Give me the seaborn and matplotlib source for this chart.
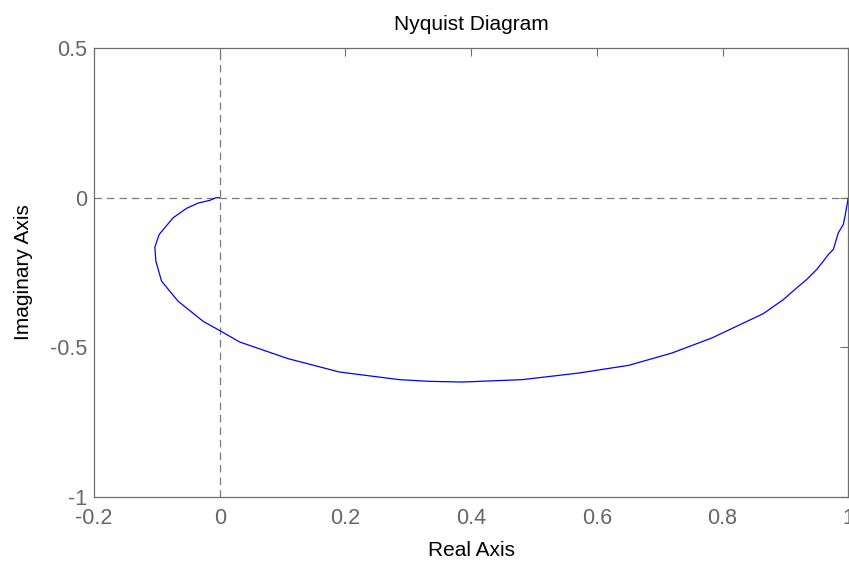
import matplotlib
matplotlib.use("Agg")
import matplotlib.pyplot as plt
import seaborn as sns
import pandas as pd

# Frequency-response samples of the open-loop transfer function (real, imaginary)
real_part = [1.0, 0.9948, 0.9921, 0.9841, 0.9762, 0.9683, 0.9603, 0.9497, 0.9338,
             0.9179, 0.8968, 0.8651, 0.7830, 0.7195, 0.6508, 0.5714, 0.4814, 0.3862,
             0.3333, 0.2857, 0.1905, 0.1084, 0.0317, 0.0, -0.0265, -0.0662, -0.0925,
             -0.1016, -0.1032, -0.0963, -0.0741, -0.0529, -0.0344, -0.0159, -0.0063, 0.0]
imag_part = [0.0, -0.0613, -0.0891, -0.1173, -0.1729, -0.1896, -0.2121, -0.2399, -0.2734,
             -0.3015, -0.3404, -0.3873, -0.4690, -0.5193, -0.5605, -0.5863, -0.6084, -0.6164,
             -0.6141, -0.6084, -0.5829, -0.5380, -0.4824, -0.4442, -0.4131, -0.3461, -0.2791,
             -0.2121, -0.1652, -0.1226, -0.0670, -0.0355, -0.0178, -0.0087, 0.0, 0.0]

x_ticks = [-0.2, 0, 0.2, 0.4, 0.6, 0.8, 1]
x_tick_labels = ["-0.2", "0", "0.2", "0.4", "0.6", "0.8", "1"]
y_ticks = [-1, -0.5, 0, 0.5]
y_tick_labels = ["-1", "-0.5", "0", "0.5"]

sns.set_style("white")
plt.rcParams["font.family"] = ["Liberation Sans", "DejaVu Sans"]
plt.rcParams["axes.unicode_minus"] = False

df = pd.DataFrame({"Re": real_part, "Im": imag_part})

fig = plt.figure(figsize=(8.49, 5.62), dpi=100)
ax = fig.add_axes([94 / 849, 1 - 496.7 / 562, (848.3 - 94) / 849, (496.7 - 48.3) / 562])

grey = "#6e6e6e"
ax.axhline(0, color="#7a7a7a", lw=0.9, ls=(0, (6, 4)), zorder=1)
ax.axvline(0, color="#7a7a7a", lw=0.9, ls=(0, (6, 4)), zorder=1)

sns.lineplot(data=df, x="Re", y="Im", sort=False, estimator=None,
             color="#0000ff", lw=0.9, ax=ax, zorder=3)

ax.set_xlim(-0.2, 1)
ax.set_ylim(-1, 0.5)
ax.set_xticks(x_ticks)
ax.set_xticklabels(x_tick_labels)
ax.set_yticks(y_ticks)
ax.set_yticklabels(y_tick_labels)

ax.tick_params(axis="both", direction="in", length=6, width=0.8, color=grey,
               labelcolor="#666666", labelsize=15.5, top=True, right=True)
ax.tick_params(axis="x", pad=8)
ax.tick_params(axis="y", pad=5)

for side in ["left", "right", "top", "bottom"]:
    ax.spines[side].set_visible(True)
    ax.spines[side].set_color(grey)
    ax.spines[side].set_linewidth(0.9)

ax.set_title("Nyquist Diagram", fontsize=15, color="black", pad=13)
ax.set_xlabel("Real Axis", fontsize=15, color="black", labelpad=9)
ax.set_ylabel("Imaginary Axis", fontsize=15, color="black", labelpad=12)

fig.savefig("out.png", dpi=100, facecolor="white")
